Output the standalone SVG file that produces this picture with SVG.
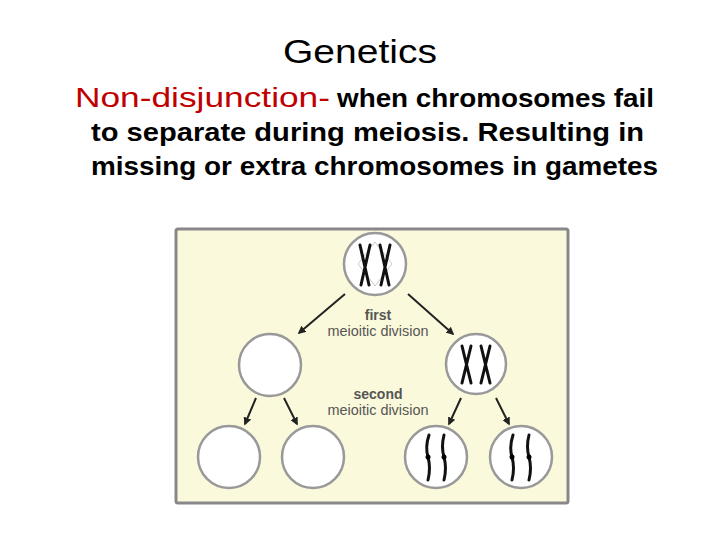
<svg xmlns="http://www.w3.org/2000/svg" width="720" height="540" viewBox="0 0 720 540">
<defs>
<style>
.t{font-family:"Liberation Sans",Arial,sans-serif}
.cell{fill:#fff;stroke:#999;stroke-width:2.5}
.ch{fill:none;stroke:#111;stroke-width:3;stroke-linecap:round}
.ar{stroke:#222;stroke-width:2;marker-end:url(#ah)}
.lb{font-family:"Liberation Sans",Arial,sans-serif;font-size:14px;fill:#555;text-anchor:middle}
</style>
<marker id="ah" viewBox="0 0 10 10" refX="8" refY="5" markerWidth="4" markerHeight="4" orient="auto"><path d="M0,0L10,5L0,10z" fill="#222"/></marker>
</defs>
<rect width="720" height="540" fill="#fff"/>
<text class="t" x="283" y="63" font-size="34" textLength="154" lengthAdjust="spacingAndGlyphs">Genetics</text>
<text class="t" x="75" y="107" font-size="28" fill="#c00000" textLength="255" lengthAdjust="spacingAndGlyphs">Non-disjunction-</text>
<text class="t" x="337" y="107" font-size="25" font-weight="bold" textLength="317" lengthAdjust="spacingAndGlyphs">when chromosomes fail</text>
<text class="t" x="91" y="141" font-size="26" font-weight="bold" textLength="553" lengthAdjust="spacingAndGlyphs">to separate during meiosis.  Resulting in</text>
<text class="t" x="91" y="175" font-size="26" font-weight="bold" textLength="567" lengthAdjust="spacingAndGlyphs">missing or extra chromosomes in gametes</text>
<rect x="176" y="229" width="392" height="274" fill="#fbf9dc" stroke="#888" stroke-width="3" rx="2"/>
<g id="connectors">
<line class="ar" x1="345" y1="294" x2="299" y2="333"/>
<line class="ar" x1="408" y1="294" x2="453" y2="334"/>
<line class="ar" x1="256" y1="398" x2="245" y2="424"/>
<line class="ar" x1="284" y1="398" x2="297" y2="424"/>
<line class="ar" x1="461" y1="398" x2="449" y2="424"/>
<line class="ar" x1="496" y1="398" x2="509" y2="424"/>
</g>
<g id="labels">
<text class="lb" x="378" y="320" font-weight="bold" fill="#444">first</text>
<text class="lb" x="378" y="336" textLength="101" lengthAdjust="spacingAndGlyphs">meioitic division</text>
<text class="lb" x="378" y="399" font-weight="bold" fill="#444">second</text>
<text class="lb" x="378" y="415" textLength="101" lengthAdjust="spacingAndGlyphs">meioitic division</text>
</g>
<g id="top"><circle class="cell" cx="375" cy="264" r="31"/>
<path d="M375,242L392,264L375,286L358,264z" fill="none" stroke="#bbb" stroke-width="0.8"/>
<path class="ch" d="M360,245L369,285M370,245L361,285M380,245L389,285M390,245L381,285"/></g>
<g id="midL"><circle class="cell" cx="270" cy="365" r="31"/></g>
<g id="midR"><circle class="cell" cx="476" cy="364" r="30"/>
<path class="ch" d="M462,346L471,383M471,346L462,383M481,346L490,383M490,346L481,383"/></g>
<g id="b1"><circle class="cell" cx="229" cy="457" r="31"/></g>
<g id="b2"><circle class="cell" cx="313" cy="457" r="31"/></g>
<g id="b3"><circle class="cell" cx="436" cy="457" r="31"/>
<path class="ch" d="M429,435Q425,447 428,457Q431,468 428,480M444,435Q441,447 444,457Q447,468 444,480" stroke-width="2.5"/>
<circle cx="428" cy="457" r="2.5"/><circle cx="444" cy="457" r="2.5"/></g>
<g id="b4"><circle class="cell" cx="521" cy="457" r="31"/>
<path class="ch" d="M513,435Q509,447 512,457Q515,468 512,480M529,435Q526,447 529,457Q532,468 529,480" stroke-width="2.5"/>
<circle cx="512" cy="457" r="2.5"/><circle cx="529" cy="457" r="2.5"/></g>
</svg>
